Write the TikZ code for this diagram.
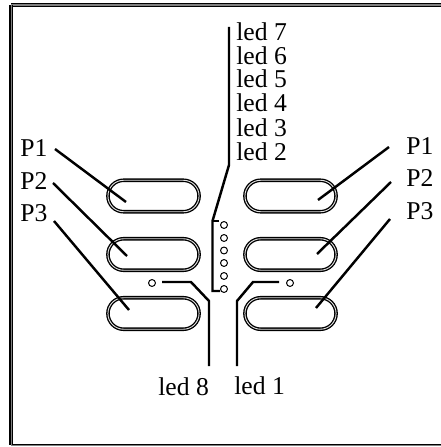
\documentclass[tikz,border=0pt]{standalone}
\usepackage{fontspec}
\setmainfont{Liberation Serif}
\newcommand{\px}{0.0264583cm}
\tikzset{x=\px,y=-\px,
 lab/.style={inner sep=0pt,font=\fontsize{19.3pt}{22pt}\selectfont,anchor=base west},
 lead/.style={draw=black,line width=1.85pt,line join=miter},
 frameline/.style={draw=black,line width=1.1pt,double=black!50,double distance=0.9pt},
 frameleft/.style={draw=black,line width=0.9pt,double=black!50,double distance=0.6pt},
 framelow/.style={draw=black,line width=0.7pt,double=black!50,double distance=0.5pt},
 slotbox/.style={draw=black,line width=1pt,double=black!12,double distance=0.7pt,rounded corners=11.8pt,minimum width=68.6pt,minimum height=23.7pt,inner sep=0pt},
 hole/.style={circle,draw=black,line width=0.75pt,minimum size=5.2pt,inner sep=0pt}}
\begin{document}
\begin{tikzpicture}
\useasboundingbox (0,0) rectangle (441,447);
\coordinate (tl) at (11,5);
\coordinate (tr) at (441,5);
\coordinate (bl) at (11,445);
\coordinate (br) at (441,445);
\draw[framelow] (bl) -- (br);
\draw[frameline] (tl) -- (tr);
\draw[frameleft] (tl) -- (bl);
% slots
\node[slotbox] (sl1) at (153.5,196) {};
\node[slotbox] (sl2) at (153.5,254.5) {};
\node[slotbox] (sl3) at (153.5,313.5) {};
\node[slotbox] (sr1) at (290.5,196) {};
\node[slotbox] (sr2) at (290.5,254.5) {};
\node[slotbox] (sr3) at (290.5,313.5) {};
% holes
\node[hole] (h2) at (224,289) {};
\node[hole] (h3) at (224,276) {};
\node[hole] (h4) at (224,263) {};
\node[hole] (h5) at (224,250.5) {};
\node[hole] (h6) at (224,238) {};
\node[hole] (h7) at (224,225) {};
\node[hole] (h8) at (152,283) {};
\node[hole] (h1) at (290,283) {};
% labels
\node[lab] (l7) at (236,41) {led 7};
\node[lab] (l6) at (236,64.5) {led 6};
\node[lab] (l5) at (236,88) {led 5};
\node[lab] (l4) at (236,112) {led 4};
\node[lab] (l3) at (236,137) {led 3};
\node[lab] (l2) at (236,161) {led 2};
\node[lab] (l8) at (158,395) {led 8};
\node[lab] (l1) at (234,394.5) {led 1};
\node[lab] (pl1) at (20,157) {P1};
\node[lab] (pl2) at (20,190) {P2};
\node[lab] (pl3) at (20,222) {P3};
\node[lab] (pr1) at (406,155) {P1};
\node[lab] (pr2) at (406,187) {P2};
\node[lab] (pr3) at (406,220) {P3};
% leader ends
\coordinate (a1) at (55,149);  \coordinate (b1) at (126,202);
\coordinate (a2) at (53,183);  \coordinate (b2) at (127,256);
\coordinate (a3) at (54,221);  \coordinate (b3) at (129,310);
\coordinate (c1) at (389,147); \coordinate (d1) at (318,200);
\coordinate (c2) at (391,182); \coordinate (d2) at (317,254);
\coordinate (c3) at (390,219); \coordinate (d3) at (316,308);
\draw[lead] (a1) -- (b1);
\draw[lead] (a2) -- (b2);
\draw[lead] (a3) -- (b3);
\draw[lead] (c1) -- (d1);
\draw[lead] (c2) -- (d2);
\draw[lead] (c3) -- (d3);
% led bus
\coordinate (v0) at (229,27);
\coordinate (v1) at (229,165);
\coordinate (v2) at (212.5,221);
\coordinate (v3) at (219,221);
\coordinate (v4) at (212.5,291);
\coordinate (v5) at (220,291);
\draw[lead] (v0) -- (v1) -- (v2) -- (v4) -- (v5);
\draw[lead] (v2) -- (v3);
% led 8 / led 1
\coordinate (e0) at (162,282);
\coordinate (e1) at (191,282);
\coordinate (e2) at (209,301);
\coordinate (e3) at (209,366);
\draw[lead] (e0) -- (e1) -- (e2) -- (e3);
\coordinate (f0) at (279,282);
\coordinate (f1) at (253,282);
\coordinate (f2) at (237,301);
\coordinate (f3) at (237,366);
\draw[lead] (f0) -- (f1) -- (f2) -- (f3);
\end{tikzpicture}
\end{document}
